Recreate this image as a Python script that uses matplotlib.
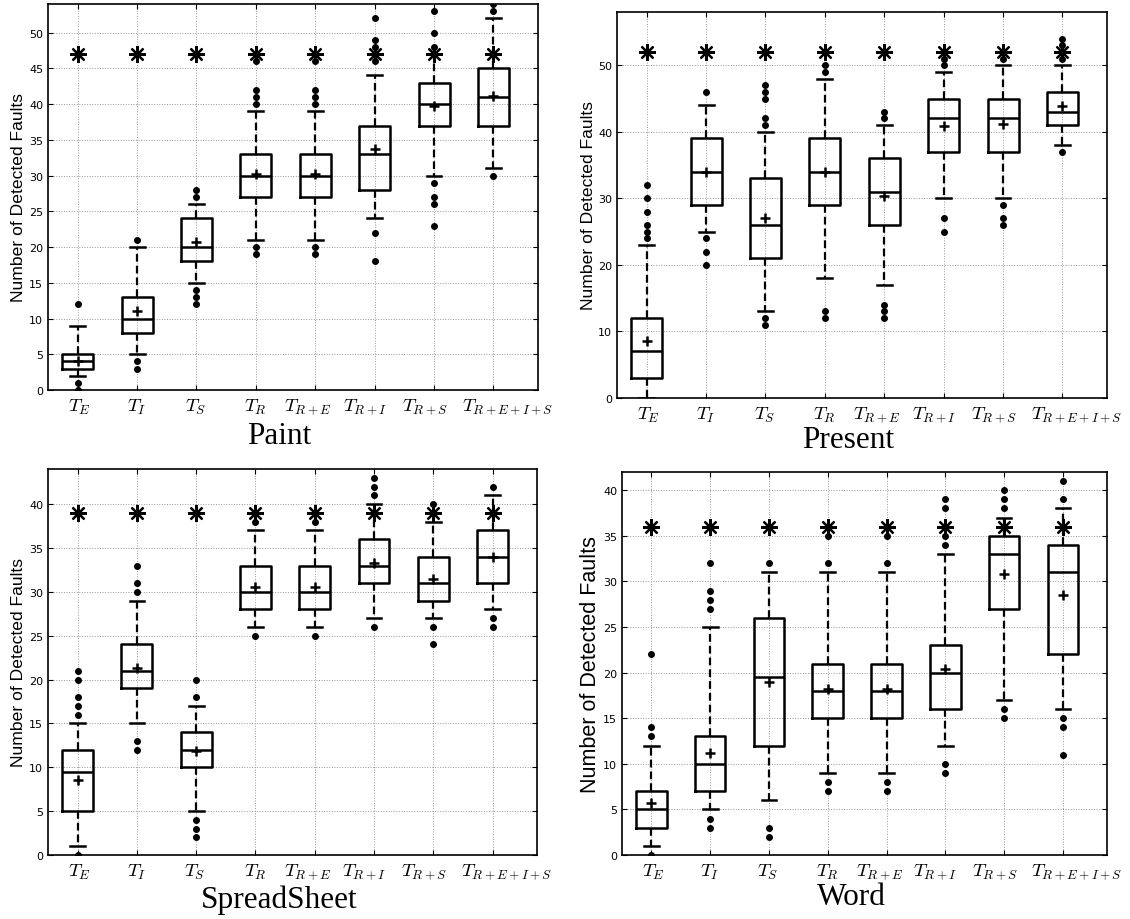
import numpy as np
import matplotlib.pyplot as plt
from matplotlib.transforms import ScaledTranslation

# test suite labels along the x axis
suites = [r'$T_E$', r'$T_I$', r'$T_S$', r'$T_R$', r'$T_{R+E}$',
          r'$T_{R+I}$', r'$T_{R+S}$', r'$T_{R+E+I+S}$']

# Paint
paint_q1 = [3, 8, 18, 27, 27, 28, 37, 37]
paint_med = [4, 10, 20, 30, 30, 33, 40, 41]
paint_q3 = [5, 13, 24, 33, 33, 37, 43, 45]
paint_lo = [2, 5, 15, 21, 21, 24, 30, 31]
paint_hi = [9, 20, 26, 39, 39, 44, 47, 52]
paint_mean = [4.1, 11.1, 20.7, 30.2, 30.2, 33.7, 39.8, 41.1]
paint_out = [[12, 1, 0], [21, 4, 3], [28, 27, 14, 13, 12],
             [46, 42, 41, 40, 20, 19], [46, 42, 41, 40, 20, 19],
             [52, 49, 48, 47, 46, 22, 18], [53, 50, 48, 29, 27, 26, 23],
             [54, 53, 30]]
paint_best = 47

# Present
present_q1 = [3, 29, 21, 29, 26, 37, 37, 41]
present_med = [7, 34, 26, 34, 31, 42, 42, 43]
present_q3 = [12, 39, 33, 39, 36, 45, 45, 46]
present_lo = [0, 25, 13, 18, 17, 30, 30, 38]
present_hi = [23, 44, 40, 48, 41, 49, 50, 50]
present_mean = [8.5, 34.0, 27.0, 34.0, 30.3, 40.9, 41.1, 43.9]
present_out = [[32, 30, 28, 26, 25, 24], [46, 24, 22, 20],
               [47, 46, 45, 42, 41, 12, 11], [50, 49, 13, 12],
               [43, 42, 14, 13, 12], [51, 50, 27, 25], [51, 29, 27, 26],
               [54, 53, 52, 51, 37]]
present_best = 52

# SpreadSheet
sheet_q1 = [5, 19, 10, 28, 28, 31, 29, 31]
sheet_med = [9.5, 21, 12, 30, 30, 33, 31, 34]
sheet_q3 = [12, 24, 14, 33, 33, 36, 34, 37]
sheet_lo = [1, 15, 5, 26, 26, 27, 27, 28]
sheet_hi = [15, 29, 17, 37, 37, 40, 38, 41]
sheet_mean = [8.5, 21.3, 11.8, 30.6, 30.6, 33.25, 31.5, 34.0]
sheet_out = [[21, 20, 18, 17, 16, 0], [33, 31, 30, 13, 12],
             [20, 18, 4, 3, 2], [38, 25], [38, 25], [43, 42, 41, 26],
             [40, 26, 24], [42, 27, 26]]
sheet_best = 39

# Word
word_q1 = [3, 7, 12, 15, 15, 16, 27, 22]
word_med = [5, 10, 19.5, 18, 18, 20, 33, 31]
word_q3 = [7, 13, 26, 21, 21, 23, 35, 34]
word_lo = [1, 5, 6, 9, 9, 12, 17, 16]
word_hi = [12, 25, 31, 31, 31, 33, 37, 38]
word_mean = [5.7, 11.2, 19.0, 18.2, 18.2, 20.45, 30.8, 28.5]
word_out = [[22, 14, 13, 0], [32, 29, 28, 27, 4, 3], [32, 3, 2],
            [35, 32, 8, 7], [35, 32, 8, 7], [39, 38, 35, 34, 10, 9],
            [40, 39, 38, 16, 15], [41, 39, 15, 14, 11]]
word_best = 36

panels = [
    ('Paint', paint_q1, paint_med, paint_q3, paint_lo, paint_hi, paint_mean, paint_out, paint_best),
    ('Present', present_q1, present_med, present_q3, present_lo, present_hi, present_mean, present_out, present_best),
    ('SpreadSheet', sheet_q1, sheet_med, sheet_q3, sheet_lo, sheet_hi, sheet_mean, sheet_out, sheet_best),
    ('Word', word_q1, word_med, word_q3, word_lo, word_hi, word_mean, word_out, word_best),
]

# axes placement in figure pixels: left, right, top, bottom
boxes_px = [(48, 538, 5, 391), (617, 1107, 13, 399),
            (48, 537, 470, 856), (622, 1107, 473, 856)]
ylims = [54, 58, 44, 42]
ystep = [5, 10, 5, 5]
ylabel_size = [12.6, 12.6, 12.6, 15.5]
ylabel_off = [22, 21, 22, 21]
title_off = [46, 42, 44, 42]
# horizontal nudge of each tick label, in pixels
label_shift = [2, 0, -1, 0, -7, -10, -9, 14]

W, H = 1130, 920
fig = plt.figure(figsize=(W / 100, H / 100), dpi=100)
plt.rcParams['mathtext.fontset'] = 'cm'

for i, (name, q1, med, q3, lo, hi, mean, out, best) in enumerate(panels):
    l, r, t, b = boxes_px[i]
    ax = fig.add_axes([l / W, 1 - b / H, (r - l) / W, (b - t) / H])

    stats = []
    for k in range(len(suites)):
        stats.append(dict(q1=q1[k], med=med[k], q3=q3[k], whislo=lo[k],
                          whishi=hi[k], mean=mean[k], fliers=out[k]))

    ax.bxp(stats, positions=np.arange(1, 9), widths=0.52, capwidths=0.25,
           showmeans=True, patch_artist=False,
           boxprops=dict(color='black', linewidth=1.8),
           medianprops=dict(color='black', linewidth=1.8),
           whiskerprops=dict(color='black', linewidth=1.6, linestyle=(0, (3.5, 1.8))),
           capprops=dict(color='black', linewidth=1.8),
           meanprops=dict(marker='+', markeredgecolor='black', markersize=7,
                          markeredgewidth=1.8),
           flierprops=dict(marker='o', markerfacecolor='black',
                           markeredgecolor='black', markersize=4))

    # best achievable fault count for every suite
    ax.plot(np.arange(1, 9), [best] * 8, linestyle='none', marker=(8, 2, 0),
            markersize=12, markeredgewidth=1.6, color='black', zorder=5)

    ax.set_xlim(0.5, 8.75)
    ax.set_ylim(0, ylims[i])
    ax.set_xticks(np.arange(1, 9))
    ax.set_yticks(np.arange(0, ylims[i] - 1, ystep[i]))
    ax.tick_params(axis='y', labelsize=8)
    ax.tick_params(direction='in', length=3.5, width=0.8, top=True, right=True)
    ax.tick_params(axis='x', pad=5)
    ax.set_xticklabels(suites, fontsize=13.5)
    for lab, dx in zip(ax.get_xticklabels(), label_shift):
        lab.set_transform(lab.get_transform() + ScaledTranslation(dx / 100, 0, fig.dpi_scale_trans))
    for s in ax.spines.values():
        s.set_linewidth(1.2)
    ax.grid(True, linestyle=':', color='0.6', linewidth=0.7)
    ax.set_axisbelow(True)

    ax.set_ylabel('Number of Detected Faults', fontsize=ylabel_size[i],
                  family='Liberation Sans')
    ax.yaxis.set_label_coords(-ylabel_off[i] / (r - l), 0.5)
    ax.annotate(name, xy=(4.4, 0), xycoords=('data', 'axes fraction'),
                xytext=(0, -title_off[i] * 0.72), textcoords='offset points',
                ha='center', va='center', fontsize=22.5, family='Liberation Serif')

fig.savefig('out.png', dpi=100)
